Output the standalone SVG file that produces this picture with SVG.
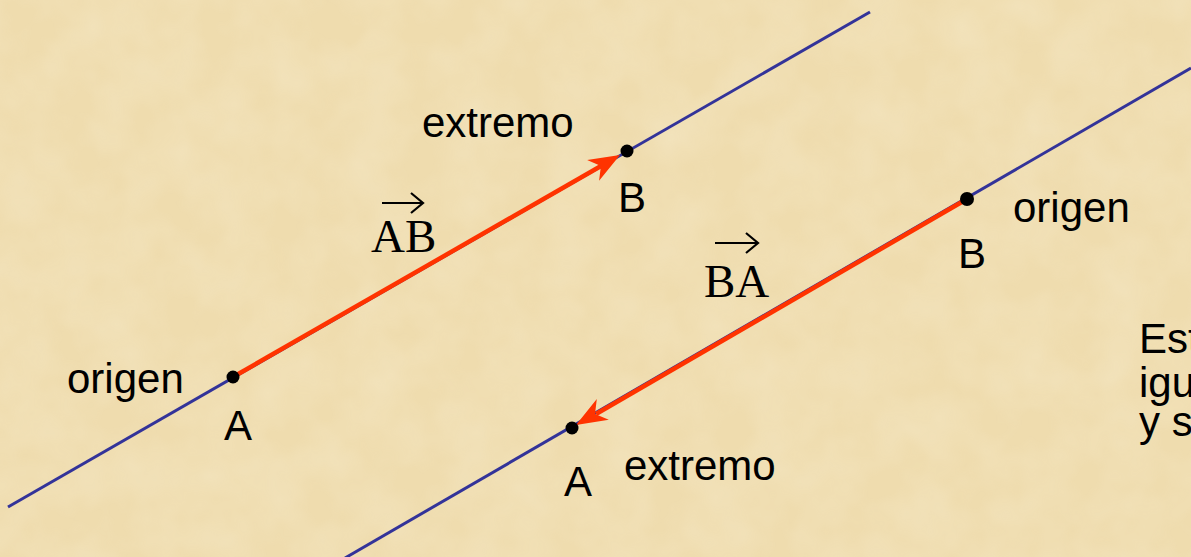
<svg xmlns="http://www.w3.org/2000/svg" width="1191" height="557" viewBox="0 0 1191 557">
  <defs>
    <filter id="paper" x="0" y="0" width="100%" height="100%">
      <feTurbulence type="fractalNoise" baseFrequency="0.02" numOctaves="3" seed="4" result="n"/>
      <feColorMatrix in="n" type="matrix" values="0 0 0 0 0.95  0 0 0 0 0.88  0 0 0 0 0.70  0 0 0 0.9 -0.25"/>
    </filter>
    <path id="head" d="M0,0 L-31,-12 L-22,0 L-31,12 Z" fill="#ff3300"/>
  </defs>
  <style>
    .axis { stroke: #333399; stroke-width: 3; fill: none; }
    .vec { stroke: #ff3300; stroke-width: 4.5; fill: none; }
    .dot { fill: #000000; }
    .lbl { font-family: "Liberation Sans", Arial, sans-serif; font-size: 42px; fill: #000000; }
    .vlbl { font-family: "Liberation Serif", "Times New Roman", serif; font-size: 47px; fill: #000000; }
    .varr { stroke: #000000; stroke-width: 2.2; fill: none; }
  </style>
  <rect width="1191" height="557" fill="#efdcae"/>
  <rect width="1191" height="557" filter="url(#paper)" opacity="0.5"/>

  <g id="connectors">
    <line class="axis" x1="8" y1="507" x2="870" y2="12"/>
    <line class="axis" x1="345" y1="558" x2="1191" y2="68"/>
    <line class="vec" x1="233" y1="377" x2="601" y2="166"/>
    <line class="vec" x1="967" y1="199" x2="596" y2="414"/>
    <use href="#head" transform="translate(620,155) rotate(-29.8)"/>
    <use href="#head" transform="translate(576,425) rotate(149.9)"/>
  </g>

  <g id="node-A1">
    <circle class="dot" cx="233" cy="377" r="6.5"/>
    <text class="lbl" x="224" y="440">A</text>
    <text class="lbl" x="67" y="393">origen</text>
  </g>
  <g id="node-B1">
    <circle class="dot" cx="627" cy="151" r="6.5"/>
    <text class="lbl" x="618" y="212">B</text>
    <text class="lbl" x="422" y="137">extremo</text>
  </g>
  <g id="node-B2">
    <circle class="dot" cx="967" cy="199" r="7"/>
    <text class="lbl" x="958" y="268">B</text>
    <text class="lbl" x="1013" y="222">origen</text>
  </g>
  <g id="node-A2">
    <circle class="dot" cx="572" cy="428" r="6.5"/>
    <text class="lbl" x="564" y="496">A</text>
    <text class="lbl" x="624" y="480">extremo</text>
  </g>

  <g id="label-AB">
    <text class="vlbl" x="371" y="252">AB</text>
    <path class="varr" d="M382,203 H423 M411,193 L423,203 L411,213"/>
  </g>
  <g id="label-BA">
    <text class="vlbl" x="704" y="297">BA</text>
    <path class="varr" d="M715,243 H758 M746,233 L758,243 L746,253"/>
  </g>

  <g id="note">
    <text class="lbl" x="1139" y="353">Est</text>
    <text class="lbl" x="1139" y="397">igu</text>
    <text class="lbl" x="1139" y="436">y s</text>
  </g>
</svg>
